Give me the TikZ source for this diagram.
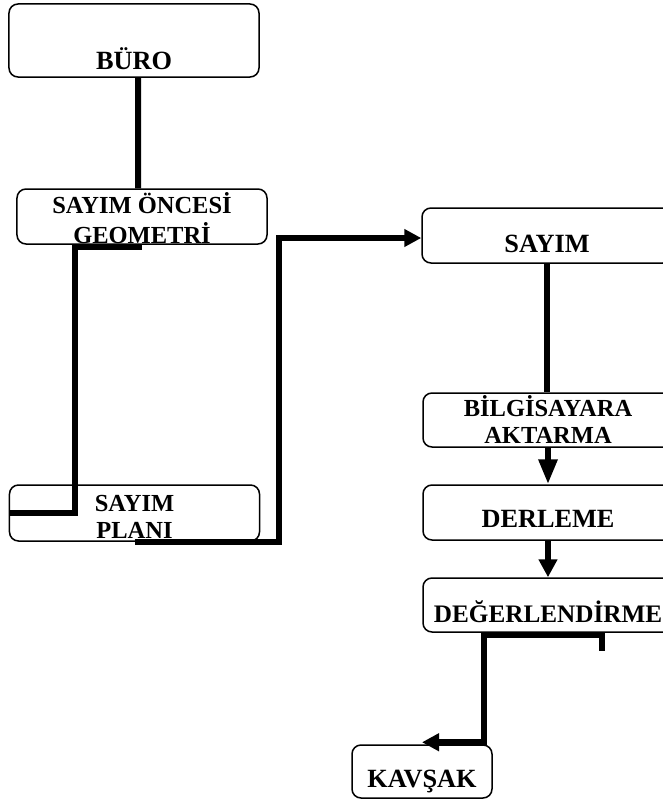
\documentclass[tikz,border=0pt]{standalone}
\usepackage{fontspec}
\setmainfont{Liberation Serif}
\usetikzlibrary{arrows.meta}
\newcommand{\twoline}[2]{\begin{tabular}[b]{@{}c@{}}#1\\#2\end{tabular}}
\tikzset{
    box/.style={draw, line width=1.5bp, rounded corners=9bp, inner sep=0pt,
        minimum width=250bp, font=\fontsize{26.3bp}{27bp}\selectfont\bfseries},
    twobox/.style={box, font=\fontsize{24.5bp}{27bp}\selectfont\bfseries},
    link/.style={line width=6bp},
    arr/.style={-{Triangle[length=17bp,width=17bp]}},
}

\begin{document}
\begin{tikzpicture}[x=1bp, y=-1bp]
    \useasboundingbox (0,0) rectangle (663,804);

        \node[box, text height=66bp, text depth=7bp] (buro) at (134,40.5) {BÜRO};
        \node[twobox, text height=54bp, text depth=1bp] (oncesi) at (142,216.5) {\twoline{SAYIM ÖNCESİ}{GEOMETRİ}};
        \node[twobox, text height=53bp, text depth=3bp] (plan) at (134.5,513) {\twoline{SAYIM}{PLANI}};
        \node[box, text height=44bp, text depth=11bp] (sayim) at (547,235.5) {SAYIM};
        \node[twobox, text height=50bp, text depth=4bp] (bilgi) at (548,420) {\twoline{BİLGİSAYARA}{AKTARMA}};
        \node[box, text height=42bp, text depth=13bp] (derleme) at (548,512.5) {DERLEME};
        \node[box, font=\fontsize{25.2bp}{27bp}\selectfont\bfseries, text height=44bp, text depth=10bp] (deger) at (548,605) {DEĞERLENDİRME};
        \node[box, minimum width=140bp, text height=42bp, text depth=11bp] (kavsak) at (422,771.5) {KAVŞAK};

    % left column
    \draw[link] ([xshift=4bp]buro.south) -- ([xshift=-4bp]oncesi.north);
    \draw[link] ([yshift=-2.5bp]oncesi.south) -| ([xshift=66.5bp]plan.west) -- (plan.west);
    \draw[link, arr] (plan.south) -- ++(144.5,0) |- ([yshift=-2.5bp]sayim.west);

    % right column
    \draw[link] (sayim.south) -- (sayim.south |- bilgi.north);
    \draw[link, -{Triangle[length=25bp,width=18bp]}] (bilgi.south) -- (derleme.north);
    \draw[link, -{Triangle[length=18bp,width=18bp]}] (derleme.south) -- (deger.north);
    \coordinate (stub) at ([xshift=54bp, yshift=-18bp]deger.south);
    \draw[link, arr] (stub) |- ([xshift=-64bp, yshift=-2.5bp]deger.south) |- ([yshift=2bp]kavsak.north);
\end{tikzpicture}
\end{document}
